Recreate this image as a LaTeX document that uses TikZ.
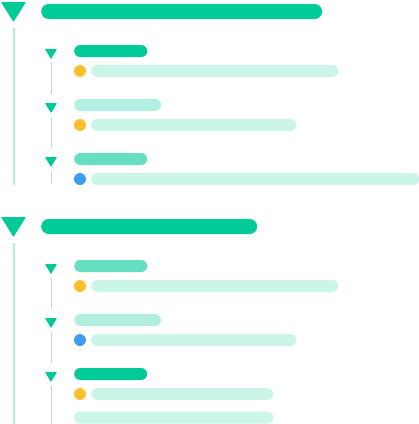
\documentclass[tikz,border=0pt]{standalone}
\usetikzlibrary{positioning}
\definecolor{tgreen}{HTML}{00CA97}
\definecolor{tmid}{HTML}{66DFC1}
\definecolor{tlight}{HTML}{B3EFE0}
\definecolor{tpale}{HTML}{CCF5EA}
\definecolor{tyellow}{HTML}{FDBF2D}
\definecolor{tblue}{HTML}{3C9CF6}
\definecolor{tspine}{HTML}{B3EDDC}
\definecolor{ttwig}{HTML}{B5DDD0}
\tikzset{
  pill/.style={rectangle,inner sep=0pt,anchor=west,minimum height=12pt,rounded corners=6pt},
  headpill/.style={pill,fill=tgreen,minimum height=15pt,rounded corners=7.5pt},
  detpill/.style={pill,fill=tpale},
  dot/.style={circle,inner sep=0pt,minimum size=12pt},
  bigtri/.style={fill=tgreen,rounded corners=0.8pt},   % section marker
  smtri/.style={fill=tgreen,rounded corners=0.5pt},    % item marker
  spine/.style={draw=tspine,line width=2pt},
  twig/.style={draw=ttwig,line width=0.9pt},
}
\begin{document}
\begin{tikzpicture}[x=1pt,y=-1pt]
  \useasboundingbox (0,0) rectangle (419,424);
  \foreach \s/\y/\w/\e in {1/0/281/185, 2/215/216/424}{
    \fill[bigtri] (1,\y+2)--(26,\y+2)--(13.5,\y+22)--cycle;
    \coordinate (tip\s) at (13.5,\y+28);
    \coordinate (end\s) at (13.5,\e);
    \draw[spine] (tip\s)--(end\s);
    \node[headpill,minimum width=\w] (head\s) at (41,\y+11.5) {};
  }
  \foreach \s/\i/\y/\tc/\tw/\dc/\de/\e in {
      1/1/51/tgreen/73/tyellow/247/94,
      1/2/105/tlight/87/tyellow/205/148,
      1/3/159/tmid/73/tblue/328/184,
      2/1/266/tmid/73/tyellow/247/309,
      2/2/320/tlight/87/tblue/205/363,
      2/3/374/tgreen/73/tyellow/182/424}{
    \fill[smtri] (45,\y-2)--(57,\y-2)--(51,\y+8)--cycle;
    \coordinate (tw\s\i) at (51,\y+12);
    \coordinate (te\s\i) at (51,\e);
    \draw[twig] (tw\s\i)--(te\s\i);
    \node[pill,fill=\tc,minimum width=\tw] (title\s\i) at (74,\y) {};
    \node[dot,fill=\dc] (dot\s\i) at (80,\y+20) {};
    \node[detpill,minimum width=\de] (det\s\i) at (91,\y+20) {};
  }
  \node[detpill,minimum width=199] (extra) at (74,417.5) {};
\end{tikzpicture}
\end{document}
